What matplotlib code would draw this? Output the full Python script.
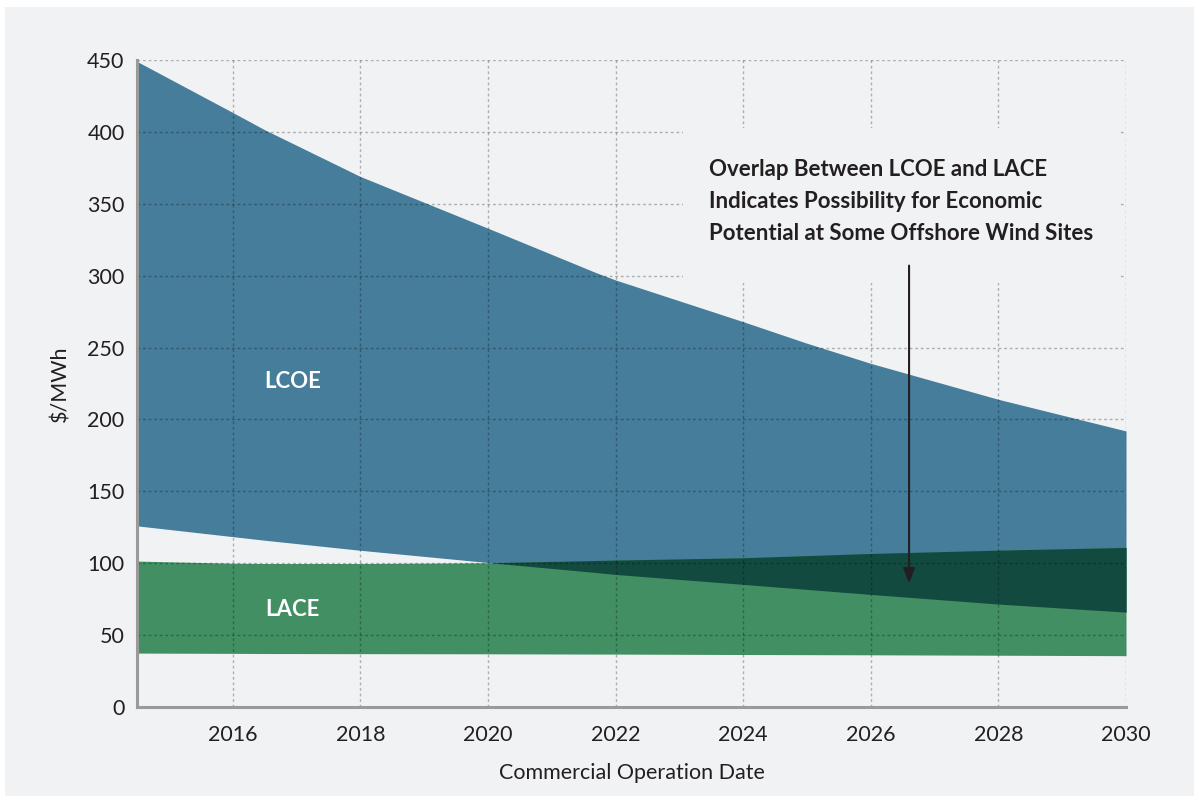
import numpy as np
import matplotlib.pyplot as plt
from matplotlib.patches import Rectangle

plt.rcParams['font.family'] = ['Lato', 'DejaVu Sans']

# Data ($/MWh)
years = [2014.5, 2016, 2016.5, 2018, 2020, 2021.7, 2022, 2024, 2025, 2026, 2028, 2030]
lcoe_high = [449, 413.5, 401.5, 369, 333, 302, 297, 268, 253, 239, 214, 192]
lcoe_low = [126, 118.5, 116, 109, 100.5, 93.5, 92.2, 85.3, 81.8, 78.3, 71.6, 66]
lace_high = [101.5, 100, 99.8, 99.8, 100.3, 101.9, 102.2, 103.8, 105.3, 106.8, 109.1, 111]
lace_low = [37.5, 37.3, 37.2, 37.1, 37, 36.8, 36.8, 36.5, 36.4, 36.3, 36, 35.7]

x_ticks = [2016, 2018, 2020, 2022, 2024, 2026, 2028, 2030]
y_ticks = [0, 50, 100, 150, 200, 250, 300, 350, 400, 450]

BG = '#f1f2f4'
BLUE = '#457d9b'
GREEN = '#418f63'
DARK = '#134a40'
TEXT = '#231f20'

x = np.array(years)
lcoe_high = np.array(lcoe_high)
lcoe_low = np.array(lcoe_low)
lace_high = np.array(lace_high)
lace_low = np.array(lace_low)

fig = plt.figure(figsize=(11.99, 8.01), dpi=100, facecolor='white')
fig.patches.append(Rectangle((5 / 1199, 5 / 801), 1189 / 1199, 789 / 801,
                             transform=fig.transFigure, facecolor=BG,
                             edgecolor='none', zorder=-10))
ax = fig.add_axes([137 / 1199, 94 / 801, 989 / 1199, 647 / 801])
ax.set_facecolor(BG)

ax.fill_between(x, lcoe_low, lcoe_high, color=BLUE, lw=0, zorder=1)
ax.fill_between(x, lace_low, lace_high, color=GREEN, lw=0, zorder=1.5)
# where the two ranges overlap
ax.fill_between(x, lcoe_low, lace_high, where=lace_high > lcoe_low,
                interpolate=True, color=DARK, lw=0, zorder=2)

# dashed grid drawn over the fills
grid_kw = dict(color='black', alpha=0.28, lw=1, ls=(0, (2, 2)), zorder=3)
for yv in y_ticks[1:]:
    ax.axhline(yv, **grid_kw)
for xv in x_ticks:
    ax.axvline(xv, **grid_kw)

# box behind the annotation hides the grid
ax.add_patch(Rectangle((2023.06, 294.7), 6.84, 107.7, facecolor=BG,
                       edgecolor='none', zorder=4))

ax.set_xlim(2014.5, 2030)
ax.set_ylim(0, 450)
ax.set_xticks(x_ticks)
ax.set_yticks(y_ticks)
ax.tick_params(length=0, labelsize=15.5, colors=TEXT)
ax.tick_params(axis='x', pad=13)
ax.tick_params(axis='y', pad=9)
for s in ['top', 'right']:
    ax.spines[s].set_visible(False)
for s in ['left', 'bottom']:
    ax.spines[s].set_color('#9a9a9a')
    ax.spines[s].set_linewidth(2.2)
    ax.spines[s].set_zorder(5)

ax.set_xlabel('Commercial Operation Date', fontsize=15.5, color=TEXT, labelpad=13)
ax.set_ylabel('$/MWh', fontsize=15.5, color=TEXT, labelpad=12)

ax.text(2016.94, 226.6, 'LCOE', color='white', fontsize=16,
        fontweight='bold', ha='center', va='center', zorder=6)
ax.text(2016.94, 68.1, 'LACE', color='white', fontsize=16,
        fontweight='bold', ha='center', va='center', zorder=6)

ax.text(2023.47, 351.7, 'Overlap Between LCOE and LACE\n'
        'Indicates Possibility for Economic\n'
        'Potential at Some Offshore Wind Sites',
        fontsize=16, fontweight='bold', color=TEXT, ha='left', va='center',
        linespacing=1.65, zorder=6)

ax.annotate('', xy=(2026.6, 86), xytext=(2026.6, 307),
            arrowprops=dict(arrowstyle='-|>,head_width=0.35,head_length=0.9',
                            color=TEXT, lw=1.5, shrinkA=0, shrinkB=0),
            zorder=6)

plt.savefig('out.png', dpi=100, facecolor=fig.get_facecolor())
